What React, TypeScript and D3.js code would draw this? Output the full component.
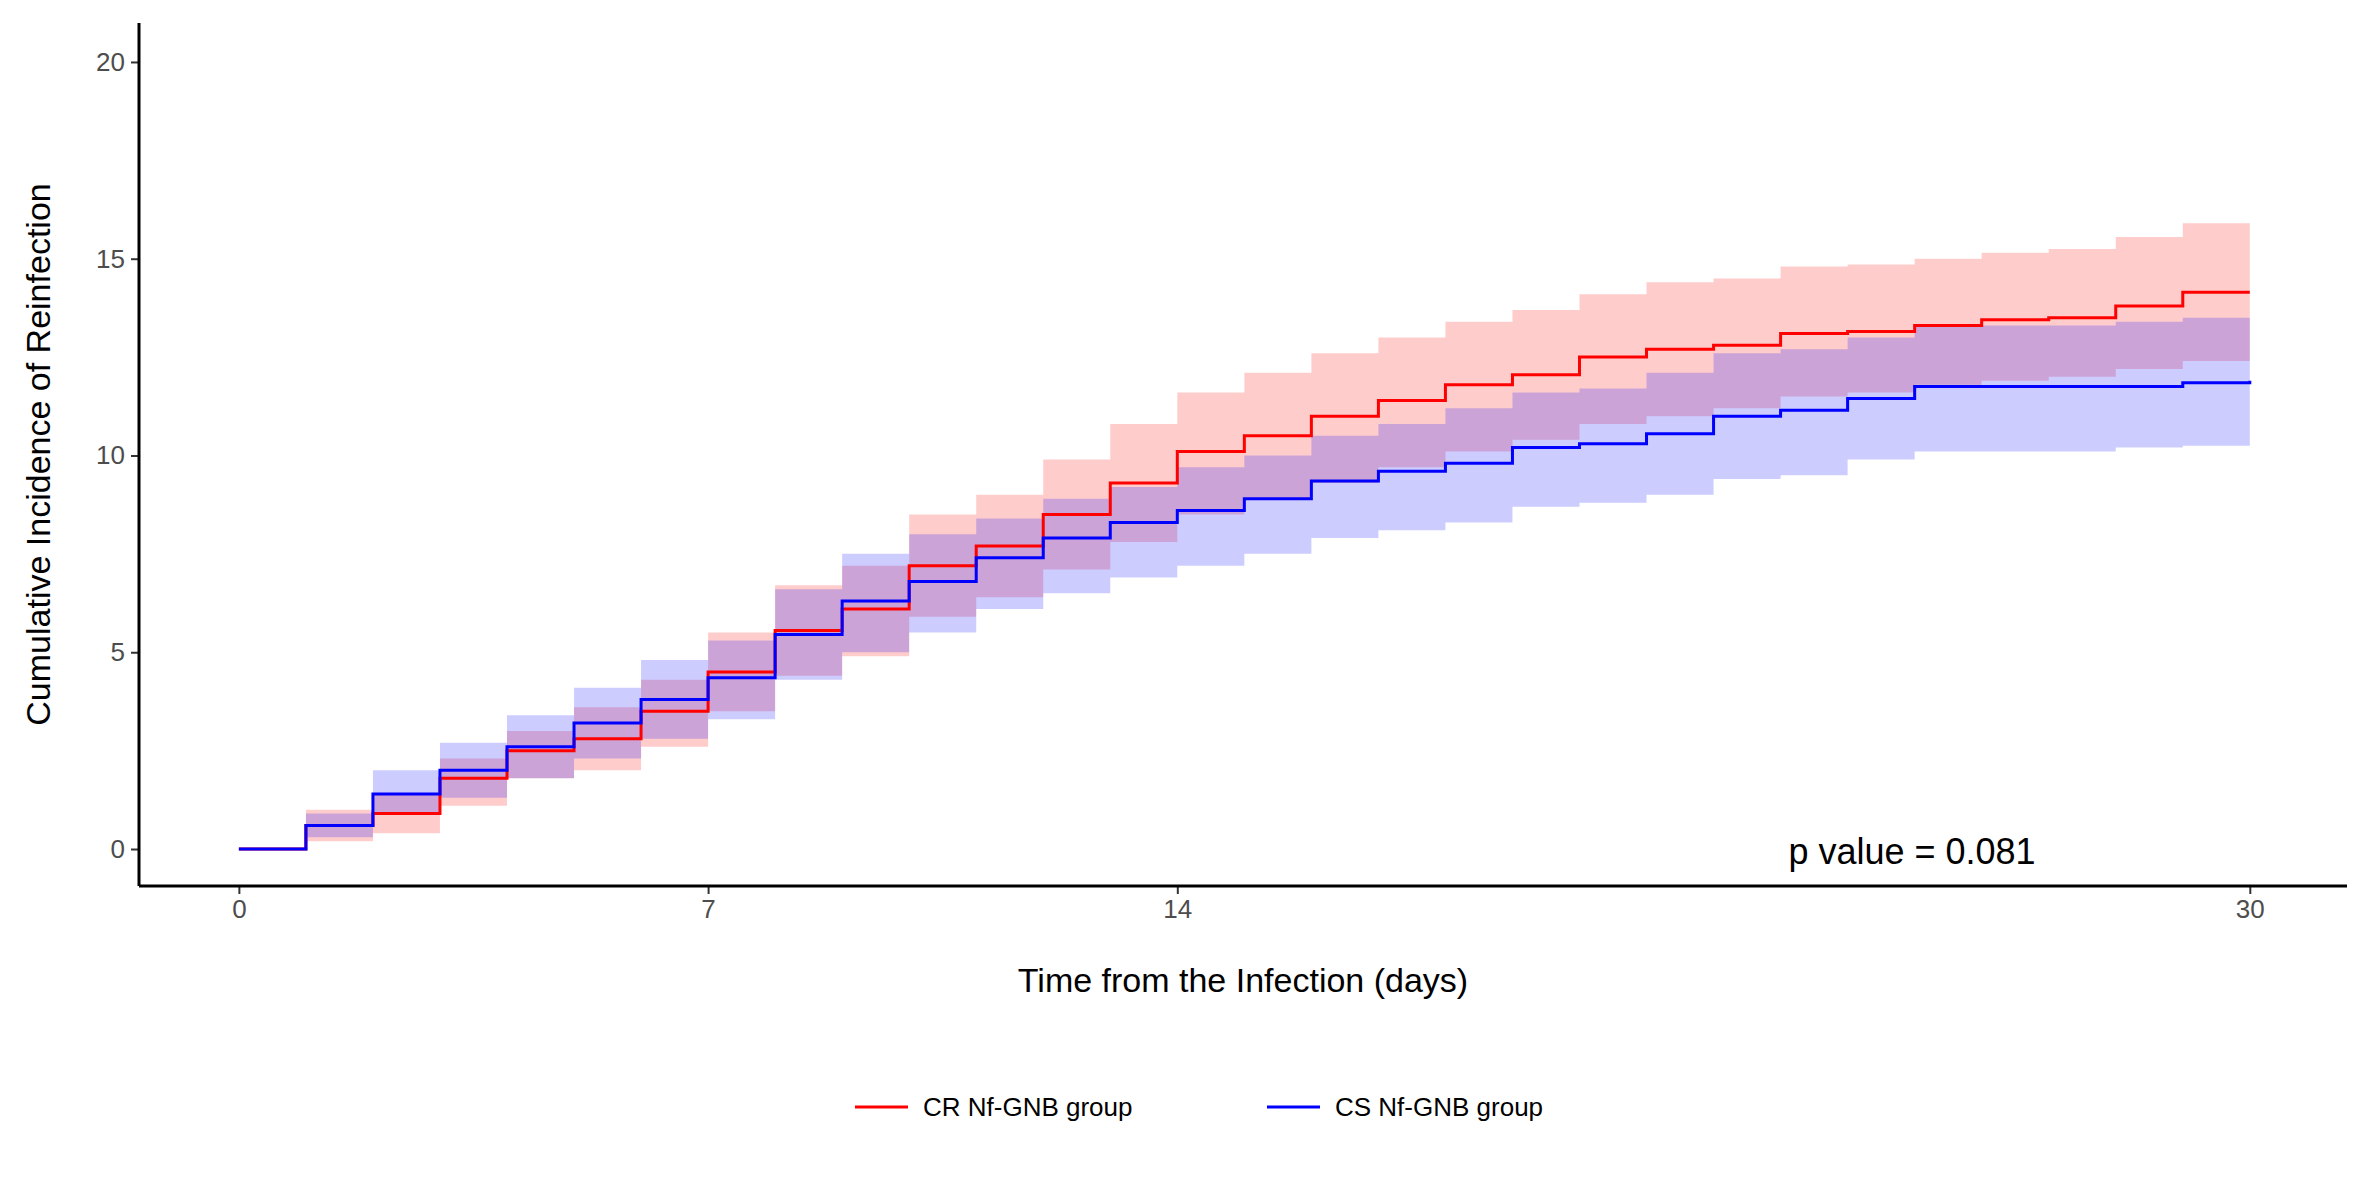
import { useEffect, useRef } from "react";
import * as d3 from "d3";

const days = d3.range(0, 31);
const tickDays = [0, 7, 14, 30];
const yTicks = [0, 5, 10, 15, 20];
const seriesNames = ["CR Nf-GNB group", "CS Nf-GNB group"];

// cumulative incidence by day (0..30)
const crEst = [0, 0.6, 0.9, 1.8, 2.5, 2.8, 3.5, 4.5, 5.55, 6.1, 7.2, 7.7, 8.5, 9.3, 10.1, 10.5, 11.0, 11.4, 11.8, 12.05, 12.5, 12.7, 12.8, 13.1, 13.15, 13.3, 13.45, 13.5, 13.8, 14.15, 14.15];
const crUpper = [0, 1.0, 1.4, 2.3, 3.0, 3.6, 4.3, 5.5, 6.7, 7.2, 8.5, 9.0, 9.9, 10.8, 11.6, 12.1, 12.6, 13.0, 13.4, 13.7, 14.1, 14.4, 14.5, 14.8, 14.85, 15.0, 15.15, 15.25, 15.55, 15.9, 15.9];
const crLower = [0, 0.2, 0.4, 1.1, 1.8, 2.0, 2.6, 3.5, 4.4, 4.9, 5.9, 6.4, 7.1, 7.8, 8.5, 8.9, 9.3, 9.7, 10.1, 10.4, 10.8, 11.0, 11.2, 11.5, 11.6, 11.8, 11.9, 12.0, 12.2, 12.4, 12.4];
const csEst = [0, 0.6, 1.4, 2.0, 2.6, 3.2, 3.8, 4.35, 5.45, 6.3, 6.8, 7.4, 7.9, 8.3, 8.6, 8.9, 9.35, 9.6, 9.8, 10.2, 10.3, 10.55, 11.0, 11.15, 11.45, 11.75, 11.75, 11.75, 11.75, 11.85, 11.9];
const csUpper = [0, 0.9, 2.0, 2.7, 3.4, 4.1, 4.8, 5.3, 6.6, 7.5, 8.0, 8.4, 8.9, 9.2, 9.7, 10.0, 10.5, 10.8, 11.2, 11.6, 11.7, 12.1, 12.6, 12.7, 13.0, 13.3, 13.3, 13.3, 13.4, 13.5, 13.5];
const csLower = [0, 0.3, 0.9, 1.3, 1.8, 2.3, 2.8, 3.3, 4.3, 5.0, 5.5, 6.1, 6.5, 6.9, 7.2, 7.5, 7.9, 8.1, 8.3, 8.7, 8.8, 9.0, 9.4, 9.5, 9.9, 10.1, 10.1, 10.1, 10.2, 10.25, 10.25];

const App = () => {
  const svgRef = useRef<SVGSVGElement>(null);

  useEffect(() => {
    if (!svgRef.current) return;
    const width = 2362;
    const height = 1181;
    const m = { left: 139, right: 2347, top: 23, bottom: 886 };

    const svg = d3.select(svgRef.current);
    svg.selectAll("*").remove();
    svg.attr("width", width).attr("height", height).style("font-family", "Arial, 'Liberation Sans', sans-serif");

    const x = d3.scaleLinear().domain([-1.49, 31.45]).range([m.left, m.right]);
    const y = d3.scaleLinear().domain([-0.94, 20.99]).range([m.bottom, m.top]);

    const series = [
      { color: "#ff0000", est: crEst, up: crUpper, lo: crLower },
      { color: "#0000ff", est: csEst, up: csUpper, lo: csLower },
    ];

    const area = d3
      .area<number>()
      .curve(d3.curveStepAfter)
      .x((d) => x(d));
    const line = d3
      .line<number>()
      .curve(d3.curveStepAfter)
      .x((d) => x(d));

    series.forEach((s) => {
      svg
        .append("path")
        .datum(days)
        .attr("fill", s.color)
        .attr("fill-opacity", 0.2)
        .attr("d", area.y0((d) => y(s.lo[d])).y1((d) => y(s.up[d])));
    });
    series.forEach((s) => {
      svg
        .append("path")
        .datum(days)
        .attr("fill", "none")
        .attr("stroke", s.color)
        .attr("stroke-width", 3)
        .attr("d", line.y((d) => y(s.est[d])));
    });

    // axes
    const xAxis = svg
      .append("g")
      .attr("transform", `translate(0,${m.bottom})`)
      .call(d3.axisBottom(x).tickValues(tickDays).tickSize(8).tickPadding(6));
    const yAxis = svg
      .append("g")
      .attr("transform", `translate(${m.left},0)`)
      .call(d3.axisLeft(y).tickValues(yTicks).tickSize(8).tickPadding(6));
    [xAxis, yAxis].forEach((g) => {
      g.select(".domain").attr("d", null);
      g.selectAll(".tick line").attr("stroke", "#333").attr("stroke-width", 2);
      g.selectAll(".tick text").attr("fill", "#4d4d4d").style("font-size", "26px").style("font-family", "Arial, 'Liberation Sans', sans-serif");
    });
    svg.append("line").attr("x1", m.left).attr("x2", m.left).attr("y1", m.top).attr("y2", m.bottom).attr("stroke", "black").attr("stroke-width", 3);
    svg.append("line").attr("x1", m.left).attr("x2", m.right).attr("y1", m.bottom).attr("y2", m.bottom).attr("stroke", "black").attr("stroke-width", 3);

    svg
      .append("text")
      .attr("x", (m.left + m.right) / 2)
      .attr("y", 992)
      .attr("text-anchor", "middle")
      .style("font-size", "34px")
      .text("Time from the Infection (days)");
    svg
      .append("text")
      .attr("transform", `translate(50,${(m.top + m.bottom) / 2}) rotate(-90)`)
      .attr("text-anchor", "middle")
      .style("font-size", "34px")
      .text("Cumulative Incidence of Reinfection");

    svg
      .append("text")
      .attr("x", 1912)
      .attr("y", 864)
      .attr("text-anchor", "middle")
      .style("font-size", "36px")
      .text("p value =  0.081");

    // legend
    const lx = [855, 1267];
    seriesNames.forEach((name, i) => {
      svg.append("line").attr("x1", lx[i]).attr("x2", lx[i] + 53).attr("y1", 1107).attr("y2", 1107).attr("stroke", series[i].color).attr("stroke-width", 3);
      svg
        .append("text")
        .attr("x", lx[i] + 68)
        .attr("y", 1116)
        .style("font-size", "26px")
        .text(name);
    });
  }, []);

  return <svg ref={svgRef} style={{ position: "absolute", left: 0, top: 0 }}></svg>;
};

export default App;
